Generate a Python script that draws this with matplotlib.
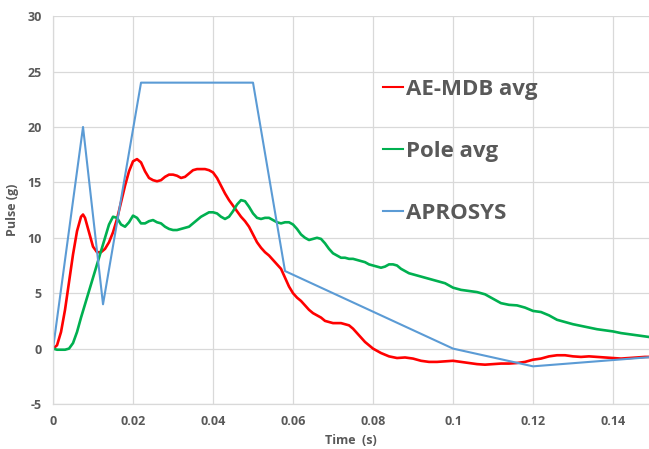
import matplotlib.pyplot as plt

plt.rcParams['axes.unicode_minus'] = False

# AE-MDB avg (red)
red_t = [0, 0.001, 0.002, 0.003, 0.004, 0.005, 0.006, 0.007, 0.0075, 0.008, 0.009, 0.010,
         0.011, 0.012, 0.013, 0.014, 0.015, 0.016, 0.017, 0.018, 0.019, 0.020, 0.021, 0.022,
         0.023, 0.024, 0.025, 0.026, 0.027, 0.028, 0.029, 0.030, 0.031, 0.032, 0.033, 0.034,
         0.035, 0.036, 0.037, 0.038, 0.039, 0.040, 0.041, 0.042, 0.043, 0.044, 0.045, 0.046,
         0.047, 0.048, 0.049, 0.050, 0.051, 0.052, 0.053, 0.054, 0.055, 0.056, 0.057, 0.058,
         0.059, 0.060, 0.061, 0.062, 0.063, 0.064, 0.065, 0.066, 0.067, 0.068, 0.069, 0.070,
         0.072, 0.074, 0.075, 0.076, 0.077, 0.078, 0.079, 0.080, 0.082, 0.084, 0.086, 0.088,
         0.090, 0.092, 0.094, 0.096, 0.098, 0.100, 0.102, 0.104, 0.106, 0.108, 0.110, 0.112,
         0.114, 0.116, 0.118, 0.120, 0.122, 0.124, 0.126, 0.128, 0.130, 0.132, 0.134, 0.136,
         0.138, 0.140, 0.142, 0.144, 0.146, 0.148, 0.150]
red_v = [0, 0.3, 1.5, 3.5, 6, 8.5, 10.6, 11.9, 12.1, 11.8, 10.5, 9.2,
         8.7, 8.7, 9.0, 9.6, 10.5, 11.7, 13.2, 14.7, 16.0, 16.9, 17.1, 16.8,
         16.0, 15.4, 15.2, 15.1, 15.2, 15.5, 15.7, 15.7, 15.6, 15.4, 15.5, 15.8,
         16.1, 16.2, 16.2, 16.2, 16.1, 15.9, 15.4, 14.7, 14.0, 13.4, 12.9, 12.4,
         11.9, 11.5, 11.0, 10.3, 9.6, 9.1, 8.7, 8.4, 8.0, 7.6, 7.2, 6.4,
         5.6, 5.0, 4.6, 4.3, 3.9, 3.5, 3.2, 3.0, 2.8, 2.5, 2.4, 2.3,
         2.3, 2.1, 1.8, 1.4, 1.0, 0.6, 0.3, 0.0, -0.4, -0.7, -0.85, -0.8,
         -0.9, -1.1, -1.2, -1.2, -1.15, -1.1, -1.2, -1.3, -1.4, -1.45, -1.4, -1.35,
         -1.35, -1.3, -1.2, -1.0, -0.9, -0.7, -0.6, -0.6, -0.7, -0.75, -0.7, -0.75,
         -0.8, -0.85, -0.9, -0.85, -0.8, -0.75, -0.75]

# Pole avg (green)
green_t = [0, 0.001, 0.002, 0.003, 0.004, 0.005, 0.006, 0.007, 0.008, 0.009, 0.010,
           0.011, 0.012, 0.013, 0.014, 0.015, 0.016, 0.017, 0.018, 0.019, 0.020, 0.021,
           0.022, 0.023, 0.024, 0.025, 0.026, 0.027, 0.028, 0.029, 0.030, 0.031, 0.032,
           0.033, 0.034, 0.035, 0.036, 0.037, 0.038, 0.039, 0.040, 0.041, 0.042, 0.043,
           0.044, 0.045, 0.046, 0.047, 0.048, 0.049, 0.050, 0.051, 0.052, 0.053, 0.054,
           0.055, 0.056, 0.057, 0.058, 0.059, 0.060, 0.061, 0.062, 0.063, 0.064, 0.065,
           0.066, 0.067, 0.068, 0.069, 0.070, 0.071, 0.072, 0.073, 0.074, 0.075, 0.076,
           0.077, 0.078, 0.079, 0.080, 0.081, 0.082, 0.083, 0.084, 0.085, 0.086, 0.087,
           0.088, 0.089, 0.090, 0.091, 0.092, 0.093, 0.094, 0.095, 0.096, 0.097, 0.098,
           0.099, 0.100, 0.102, 0.104, 0.106, 0.108, 0.110, 0.112, 0.114, 0.116, 0.118,
           0.120, 0.122, 0.124, 0.126, 0.128, 0.130, 0.132, 0.134, 0.136, 0.138, 0.140,
           0.142, 0.144, 0.146, 0.148, 0.150]
green_v = [0, -0.1, -0.1, -0.1, 0.0, 0.5, 1.5, 2.8, 4.0, 5.2, 6.4,
           7.6, 8.8, 10.0, 11.2, 11.9, 11.8, 11.2, 11.0, 11.4, 12.0, 11.8,
           11.3, 11.3, 11.5, 11.6, 11.4, 11.3, 11.0, 10.8, 10.7, 10.7, 10.8,
           10.9, 11.0, 11.3, 11.6, 11.9, 12.1, 12.3, 12.3, 12.2, 11.9, 11.7,
           11.9, 12.4, 13.0, 13.4, 13.3, 12.8, 12.2, 11.8, 11.7, 11.8, 11.8,
           11.6, 11.4, 11.3, 11.4, 11.4, 11.2, 10.8, 10.3, 10.0, 9.8, 9.9,
           10.0, 9.9, 9.5, 9.0, 8.6, 8.4, 8.2, 8.2, 8.1, 8.1, 8.0,
           7.9, 7.8, 7.6, 7.5, 7.4, 7.3, 7.4, 7.6, 7.6, 7.5, 7.2,
           7.0, 6.8, 6.7, 6.6, 6.5, 6.4, 6.3, 6.2, 6.1, 6.0, 5.9,
           5.7, 5.5, 5.3, 5.2, 5.1, 4.9, 4.5, 4.1, 3.95, 3.9, 3.7,
           3.4, 3.3, 3.0, 2.6, 2.4, 2.2, 2.05, 1.9, 1.75, 1.65, 1.55,
           1.4, 1.3, 1.2, 1.1, 1.0]

# APROSYS (blue)
blue_t = [0, 0.0075, 0.0125, 0.022, 0.050, 0.058, 0.100, 0.120, 0.150]
blue_v = [0, 20, 4, 24, 24, 7, 0, -1.6, -0.75]

gray = '#595959'
fnt = 'Open Sans'

fig = plt.figure(figsize=(6.49, 4.49), dpi=100)
ax = fig.add_axes([0.0817, 0.1002, 0.9183, 0.8638])

ax.plot(red_t, red_v, color='#FF0000', linewidth=1.9, label='AE-MDB avg', solid_joinstyle='round')
ax.plot(green_t, green_v, color='#00B050', linewidth=1.9, label='Pole avg', solid_joinstyle='round')
ax.plot(blue_t, blue_v, color='#5B9BD5', linewidth=1.5, label='APROSYS')

ax.set_xlim(0, 0.149)
ax.set_ylim(-5, 30)
ax.set_xticks([0, 0.02, 0.04, 0.06, 0.08, 0.1, 0.12, 0.14])
ax.set_xticklabels(['0', '0.02', '0.04', '0.06', '0.08', '0.1', '0.12', '0.14'])
ax.set_yticks([-5, 0, 5, 10, 15, 20, 25, 30])
ax.grid(True, color='#d9d9d9', linewidth=0.9)
ax.set_axisbelow(True)
for s in ['top', 'right']:
    ax.spines[s].set_visible(False)
for s in ['left', 'bottom']:
    ax.spines[s].set_color('#d9d9d9')
    ax.spines[s].set_linewidth(0.9)
ax.tick_params(length=0, pad=8, labelsize=9, labelcolor=gray)
for lab in ax.get_xticklabels() + ax.get_yticklabels():
    lab.set_fontweight('bold')
    lab.set_family(fnt)

ax.set_xlabel('Time  (s)', fontsize=9, fontweight='bold', color=gray, family=fnt, labelpad=4)
ax.set_ylabel('Pulse (g)', fontsize=9, fontweight='bold', color=gray, family=fnt, labelpad=6)

leg = ax.legend(loc='upper left', bbox_to_anchor=(0.52, 0.89), frameon=False,
                handlelength=0.9, handletextpad=0.15, labelspacing=1.85,
                prop={'family': fnt, 'weight': 'bold', 'size': 16})
for t in leg.get_texts():
    t.set_color(gray)
for h in leg.get_lines():
    h.set_linewidth(1.5)

plt.savefig('out.png', dpi=100)
